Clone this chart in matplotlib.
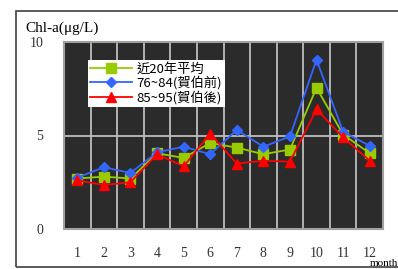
import matplotlib.pyplot as plt
from matplotlib.patches import Rectangle

months = list(range(1, 13))
avg20 = [2.7, 2.8, 2.7, 4.05, 3.8, 4.6, 4.35, 4.0, 4.25, 7.55, 5.05, 4.05]
before = [2.75, 3.3, 3.0, 4.1, 4.4, 4.0, 5.3, 4.4, 4.95, 9.05, 5.2, 4.45]
after = [2.6, 2.35, 2.5, 4.0, 3.35, 5.1, 3.5, 3.65, 3.6, 6.4, 4.9, 3.65]
labels = ['近20年平均', '76~84(賀伯前)', '85~95(賀伯後)']

plt.rcParams['font.family'] = ['Liberation Serif', 'Noto Sans CJK TC']

fig = plt.figure(figsize=(3.98, 2.69), dpi=100)
fig.patches.append(Rectangle((16 / 398, 2 / 269), 1.0, 256 / 269, transform=fig.transFigure,
                             fill=False, edgecolor='#404040', linewidth=1.2))
ax = fig.add_axes([64 / 398, 1 - 229 / 269, 319 / 398, 187 / 269])
ax.set_facecolor('#2b2b2b')
for s in ax.spines.values():
    s.set_color('#a0a0a0')
    s.set_linewidth(1.5)

ax.set_xlim(0.5, 12.5)
ax.set_ylim(0, 10)
for x in range(1, 12):
    ax.axvline(x + 0.5, color='#bdbdbd', linewidth=1.3, zorder=1)
ax.axhline(5, color='#bdbdbd', linewidth=1.3, zorder=1)

ax.plot(months, avg20, color='#99cc00', marker='s', markersize=6.5, linewidth=1.3, label=labels[0], zorder=3)
ax.plot(months, before, color='#3366ff', marker='D', markersize=5, linewidth=1.3, label=labels[1], zorder=3)
ax.plot(months, after, color='#ff0000', marker='^', markersize=6.5, linewidth=1.3, label=labels[2], zorder=4)

ax.set_xticks(months)
ax.set_yticks([0, 5, 10])
ax.tick_params(length=0, labelsize=10, colors='#333333')
ax.tick_params(axis='x', pad=13)
ax.tick_params(axis='y', pad=15)

leg = ax.legend(loc='upper left', bbox_to_anchor=(0.053, 0.94), frameon=True, fancybox=False,
                framealpha=1, edgecolor='white', borderpad=0.2,
                handlelength=3.2, handletextpad=0.3, labelspacing=0.05,
                prop={'family': ['Noto Sans CJK TC', 'DejaVu Sans'], 'size': 9.5})
leg.get_frame().set_linewidth(0)

fig.text(25 / 398, 1 - 28 / 269, 'Chl-a(μg/L)', fontsize=11, va='center', ha='left')
fig.text(384 / 398, 1 - 264 / 269, 'month', fontsize=8, va='center', ha='center')

fig.savefig('out.png', dpi=100)
